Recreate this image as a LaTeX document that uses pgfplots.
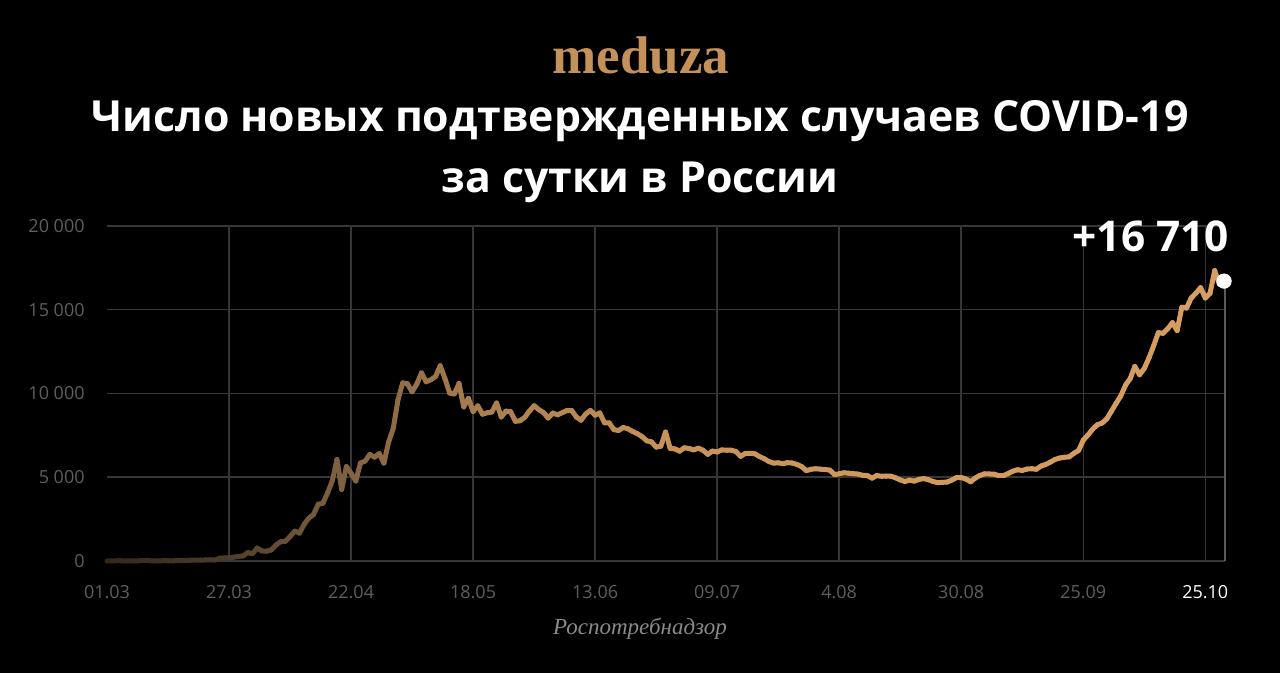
\documentclass[border=0pt]{standalone}
\usepackage{pgfplots}
\pgfplotsset{compat=1.18}
\usepackage{fontspec}
\setmainfont{Open Sans}
\newfontfamily\srcfont{Liberation Serif}

\definecolor{gridc}{HTML}{363636}
\definecolor{tickc}{HTML}{5E5E5E}
\definecolor{dropc}{HTML}{5A5A5A}
\definecolor{gold}{HTML}{C4915A}
\definecolor{srcc}{HTML}{8A8A8A}

% daily new cases, day 0 = 01.03
\pgfplotstableread{
day cases
0 0
1 1
2 0
3 0
4 1
5 6
6 0
7 3
8 3
9 3
10 8
11 6
12 17
13 14
14 4
15 30
16 21
17 33
18 52
19 54
20 53
21 61
22 71
23 57
24 163
25 182
26 196
27 228
28 270
29 302
30 501
31 440
32 771
33 601
34 582
35 658
36 954
37 1154
38 1175
39 1459
40 1786
41 1667
42 2186
43 2558
44 2774
45 3388
46 3448
47 4070
48 4785
49 6060
50 4268
51 5642
52 5236
53 4774
54 5849
55 5966
56 6361
57 6198
58 6411
59 5841
60 7099
61 7933
62 9623
63 10633
64 10581
65 10102
66 10559
67 11231
68 10699
69 10817
70 11012
71 11656
72 10899
73 10028
74 9974
75 10598
76 9200
77 9709
78 8926
79 9263
80 8764
81 8849
82 8894
83 9434
84 8599
85 8946
86 8915
87 8338
88 8371
89 8572
90 8952
91 9268
92 9035
93 8863
94 8536
95 8831
96 8726
97 8855
98 8984
99 8985
100 8595
101 8404
102 8779
103 8987
104 8706
105 8835
106 8246
107 8248
108 7843
109 7790
110 7972
111 7889
112 7728
113 7600
114 7425
115 7176
116 7113
117 6800
118 6852
119 7700
120 6719
121 6693
122 6556
123 6760
124 6718
125 6632
126 6736
127 6611
128 6368
129 6562
130 6509
131 6635
132 6611
133 6615
134 6537
135 6248
136 6422
137 6428
138 6406
139 6234
140 6109
141 5940
142 5842
143 5862
144 5811
145 5871
146 5848
147 5765
148 5635
149 5395
150 5475
151 5509
152 5482
153 5462
154 5427
155 5159
156 5204
157 5267
158 5241
159 5212
160 5189
161 5118
162 5102
163 4945
164 5102
165 5057
166 5065
167 5061
168 4969
169 4839
170 4748
171 4828
172 4767
173 4870
174 4921
175 4852
176 4744
177 4676
178 4696
179 4711
180 4829
181 4979
182 4980
183 4897
184 4729
185 4952
186 5110
187 5205
188 5195
189 5185
190 5099
191 5099
192 5218
193 5363
194 5449
195 5406
196 5488
197 5509
198 5475
199 5670
200 5762
201 5905
202 6065
203 6148
204 6196
205 6215
206 6431
207 6595
208 7212
209 7523
210 7867
211 8135
212 8232
213 8481
214 8945
215 9412
216 9859
217 10499
218 10888
219 11615
220 11115
221 11493
222 12126
223 12846
224 13634
225 13592
226 13868
227 14231
228 13754
229 15150
230 15099
231 15700
232 15982
233 16319
234 15700
235 15971
236 17340
237 16521
238 16710
}\casesdata

\begin{document}
\begin{tikzpicture}[x=0.5pt,y=0.5pt]
\fill[black] (0,0) rectangle (1280,673);

\begin{axis}[
  at={(53.5pt,56pt)}, anchor=south west,
  scale only axis, width=559pt, height=167.5pt,
  xmin=0, xmax=238.2, ymin=0, ymax=20000,
  clip=false,
  scaled y ticks=false,
  axis line style={draw=none},
  major tick length=0pt,
  xtick={0,26,52,78,104,130,156,182,208,234},
  xticklabels={01.03,27.03,22.04,18.05,13.06,09.07,4.08,30.08,25.09,\textcolor{white}{25.10}},
  extra x ticks={26,52,78,104,130,156,182,208,234},
  extra x tick labels={},
  extra x tick style={grid=major},
  ytick={0,5000,10000,15000,20000},
  yticklabels={0,5 000,10 000,15 000,20 000},
  ymajorgrids=true,
  grid style={draw=gridc, line width=0.75pt},
  xticklabel style={font=\fontsize{9}{10}\selectfont, text=tickc, anchor=north, inner sep=0pt, yshift=-12pt},
  yticklabel style={font=\fontsize{9}{10}\selectfont, text=tickc, anchor=east, inner sep=0pt, xshift=-11pt},
  colormap={brass}{rgb255(0pt)=(50,40,28) rgb255(26pt)=(78,60,40) rgb255(49pt)=(125,96,64) rgb255(78pt)=(168,125,78) rgb255(120pt)=(198,146,88) rgb255(170pt)=(210,154,92) rgb255(238pt)=(214,158,96)},
  point meta min=0, point meta max=238,
]
\addplot[draw=dropc, line width=0.75pt] coordinates {(238.2,0) (238.2,16710)};
\addplot[mesh, point meta=x, line width=2.5pt, line cap=round, line join=round] table[x=day, y=cases] {\casesdata};
\addplot[only marks, mark=*, mark size=3.6pt, white] coordinates {(238,16710)};
\end{axis}

\node[anchor=base, gold, font=\srcfont\bfseries\fontsize{26.5}{30}\selectfont] at (641,599) {meduza};
\node[anchor=base, white, font=\bfseries\fontsize{21.4}{26}\selectfont] at (640,541.3) {Число новых подтвержденных случаев COVID-19};
\node[anchor=base, white, font=\bfseries\fontsize{21.4}{26}\selectfont] at (640,480.3) {за сутки в России};
\node[anchor=base east, white, font=\bfseries\fontsize{21.2}{24}\selectfont] at (1236,421.3) {+16 710};
\node[anchor=base, srcc, font=\srcfont\itshape\fontsize{11.5}{13}\selectfont] at (640,38) {Роспотребнадзор};
\end{tikzpicture}
\end{document}
